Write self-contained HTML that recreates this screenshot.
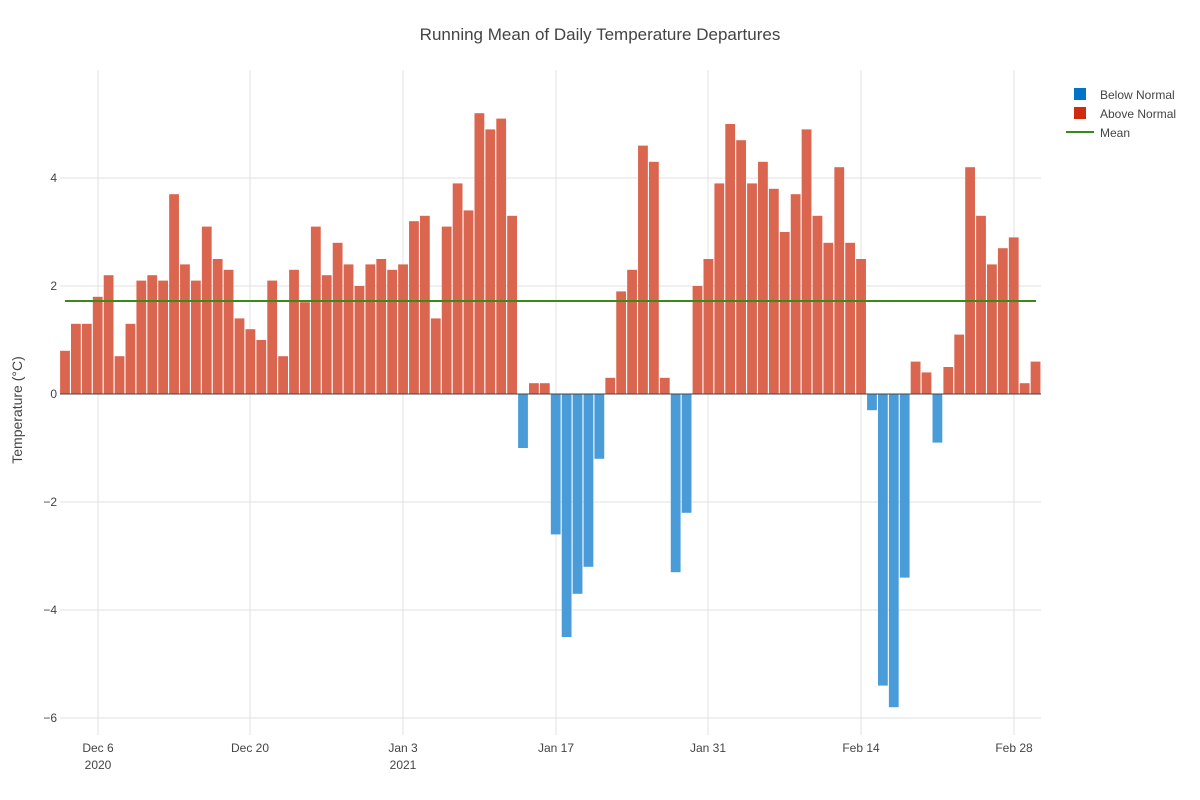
<!DOCTYPE html>
<html><head><meta charset="utf-8"><style>
body{margin:0;background:#fff;}
svg{display:block;font-family:"Liberation Sans",sans-serif;}
</style></head><body>
<svg id="s" width="1200" height="800" viewBox="0 0 1200 800">
<rect width="1200" height="800" fill="#fff"/>
<g stroke="#e1e1e1" stroke-width="1">
<line x1="60" x2="1041" y1="178" y2="178"/><line x1="60" x2="1041" y1="286" y2="286"/>
<line x1="60" x2="1041" y1="502" y2="502"/><line x1="60" x2="1041" y1="610" y2="610"/>
<line x1="60" x2="1041" y1="718" y2="718"/>
<line x1="98" x2="98" y1="70" y2="735"/><line x1="250" x2="250" y1="70" y2="735"/>
<line x1="403" x2="403" y1="70" y2="735"/><line x1="556" x2="556" y1="70" y2="735"/>
<line x1="708" x2="708" y1="70" y2="735"/><line x1="861" x2="861" y1="70" y2="735"/>
<line x1="1014" x2="1014" y1="70" y2="735"/>
</g>
<g id="bars"></g>
<line x1="60" x2="1041" y1="394" y2="394" stroke="#444" stroke-width="1"/>
<line x1="65" x2="1036" y1="301" y2="301" stroke="#3a8a1a" stroke-width="2"/>
<text x="600" y="40" text-anchor="middle" font-size="17" fill="#444">Running Mean of Daily Temperature Departures</text>
<g font-size="12" fill="#444" text-anchor="end">
<text x="57" y="182">4</text><text x="57" y="290">2</text><text x="57" y="398">0</text>
<text x="57" y="506">−2</text><text x="57" y="614">−4</text><text x="57" y="722">−6</text>
</g>
<g font-size="12" fill="#444" text-anchor="middle">
<text x="98" y="752">Dec 6</text><text x="98" y="769">2020</text>
<text x="250" y="752">Dec 20</text>
<text x="403" y="752">Jan 3</text><text x="403" y="769">2021</text>
<text x="556" y="752">Jan 17</text><text x="708" y="752">Jan 31</text>
<text x="861" y="752">Feb 14</text><text x="1014" y="752">Feb 28</text>
</g>
<text transform="translate(22,410) rotate(-90)" text-anchor="middle" font-size="14" fill="#444">Temperature (°C)</text>
<rect x="1074" y="88" width="12" height="12" fill="#0074c8"/>
<text x="1100" y="99" font-size="12" fill="#444">Below Normal</text>
<rect x="1074" y="107" width="12" height="12" fill="#d02a0f"/>
<text x="1100" y="118" font-size="12" fill="#444">Above Normal</text>
<line x1="1066" x2="1094" y1="132" y2="132" stroke="#3a8a1a" stroke-width="2"/>
<text x="1100" y="137" font-size="12" fill="#444">Mean</text>
</svg>
<script>
var v=[0.8,1.3,1.3,1.8,2.2,0.7,1.3,2.1,2.2,2.1,3.7,2.4,2.1,3.1,2.5,2.3,1.4,1.2,1.0,2.1,0.7,2.3,1.7,3.1,2.2,2.8,2.4,2.0,2.4,2.5,2.3,2.4,3.2,3.3,1.4,3.1,3.9,3.4,5.2,4.9,5.1,3.3,-1.0,0.2,0.2,-2.6,-4.5,-3.7,-3.2,-1.2,0.3,1.9,2.3,4.6,4.3,0.3,-3.3,-2.2,2.0,2.5,3.9,5.0,4.7,3.9,4.3,3.8,3.0,3.7,4.9,3.3,2.8,4.2,2.8,2.5,-0.3,-5.4,-5.8,-3.4,0.6,0.4,-0.9,0.5,1.1,4.2,3.3,2.4,2.7,2.9,0.2,0.6];
var g=document.getElementById('bars'),h='';
for(var i=0;i<v.length;i++){var c=65+10.905*i,y=394-v[i]*54;
h+='<rect x="'+(c-4.9).toFixed(2)+'" width="9.8" y="'+Math.min(y,394).toFixed(1)+'" height="'+Math.abs(v[i]*54).toFixed(1)+'" fill="'+(v[i]<0?'#4a9cd8':'#da6650')+'"/>';}
g.innerHTML=h;
</script>
</body></html>
